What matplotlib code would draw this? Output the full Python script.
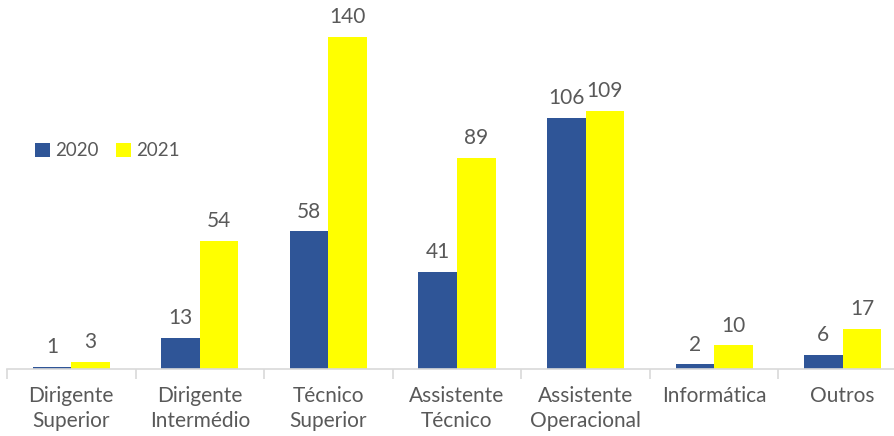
import matplotlib.pyplot as plt
import numpy as np

categorias = ["Dirigente\nSuperior", "Dirigente\nIntermédio", "Técnico\nSuperior",
              "Assistente\nTécnico", "Assistente\nOperacional", "Informática", "Outros"]
v2020 = [1, 13, 58, 41, 106, 2, 6]
v2021 = [3, 54, 140, 89, 109, 10, 17]

plt.rcParams["font.family"] = ["Lato", "DejaVu Sans"]
cinza = "#595959"

fig = plt.figure(figsize=(8.94, 4.36), dpi=100)
ax = fig.add_axes([7 / 894, 67 / 436, 900 / 894, 369 / 436])

x = np.arange(len(categorias))
w = 0.3
b1 = ax.bar(x - w / 2, v2020, w, color="#2F5597", label="2020")
b2 = ax.bar(x + w / 2, v2021, w, color="#FFFF00", label="2021")
ax.bar_label(b1, padding=7, fontsize=15, color=cinza)
ax.bar_label(b2, padding=7, fontsize=15, color=cinza)

ax.set_xlim(-0.5, len(categorias) - 0.5)
ax.set_ylim(0, 155.6)
ax.set_yticks([])
for s in ["top", "right", "left"]:
    ax.spines[s].set_visible(False)
ax.spines["bottom"].set_color("#D9D9D9")
ax.spines["bottom"].set_linewidth(1.2)

ax.set_xticks(x)
ax.set_xticklabels(categorias, fontsize=15, color=cinza, linespacing=1.35)
ax.tick_params(axis="x", length=0, pad=12)
ax.set_xticks(np.arange(len(categorias) + 1) - 0.5, minor=True)
ax.tick_params(axis="x", which="minor", length=7, color="#D9D9D9", width=1.2)

ax.legend(loc="upper left", bbox_to_anchor=(0.012, 0.66), ncol=2, frameon=False,
          fontsize=13.5, labelcolor=cinza, handlelength=0.8, handleheight=0.8,
          handletextpad=0.3, columnspacing=0.9)

plt.savefig("out.png")
